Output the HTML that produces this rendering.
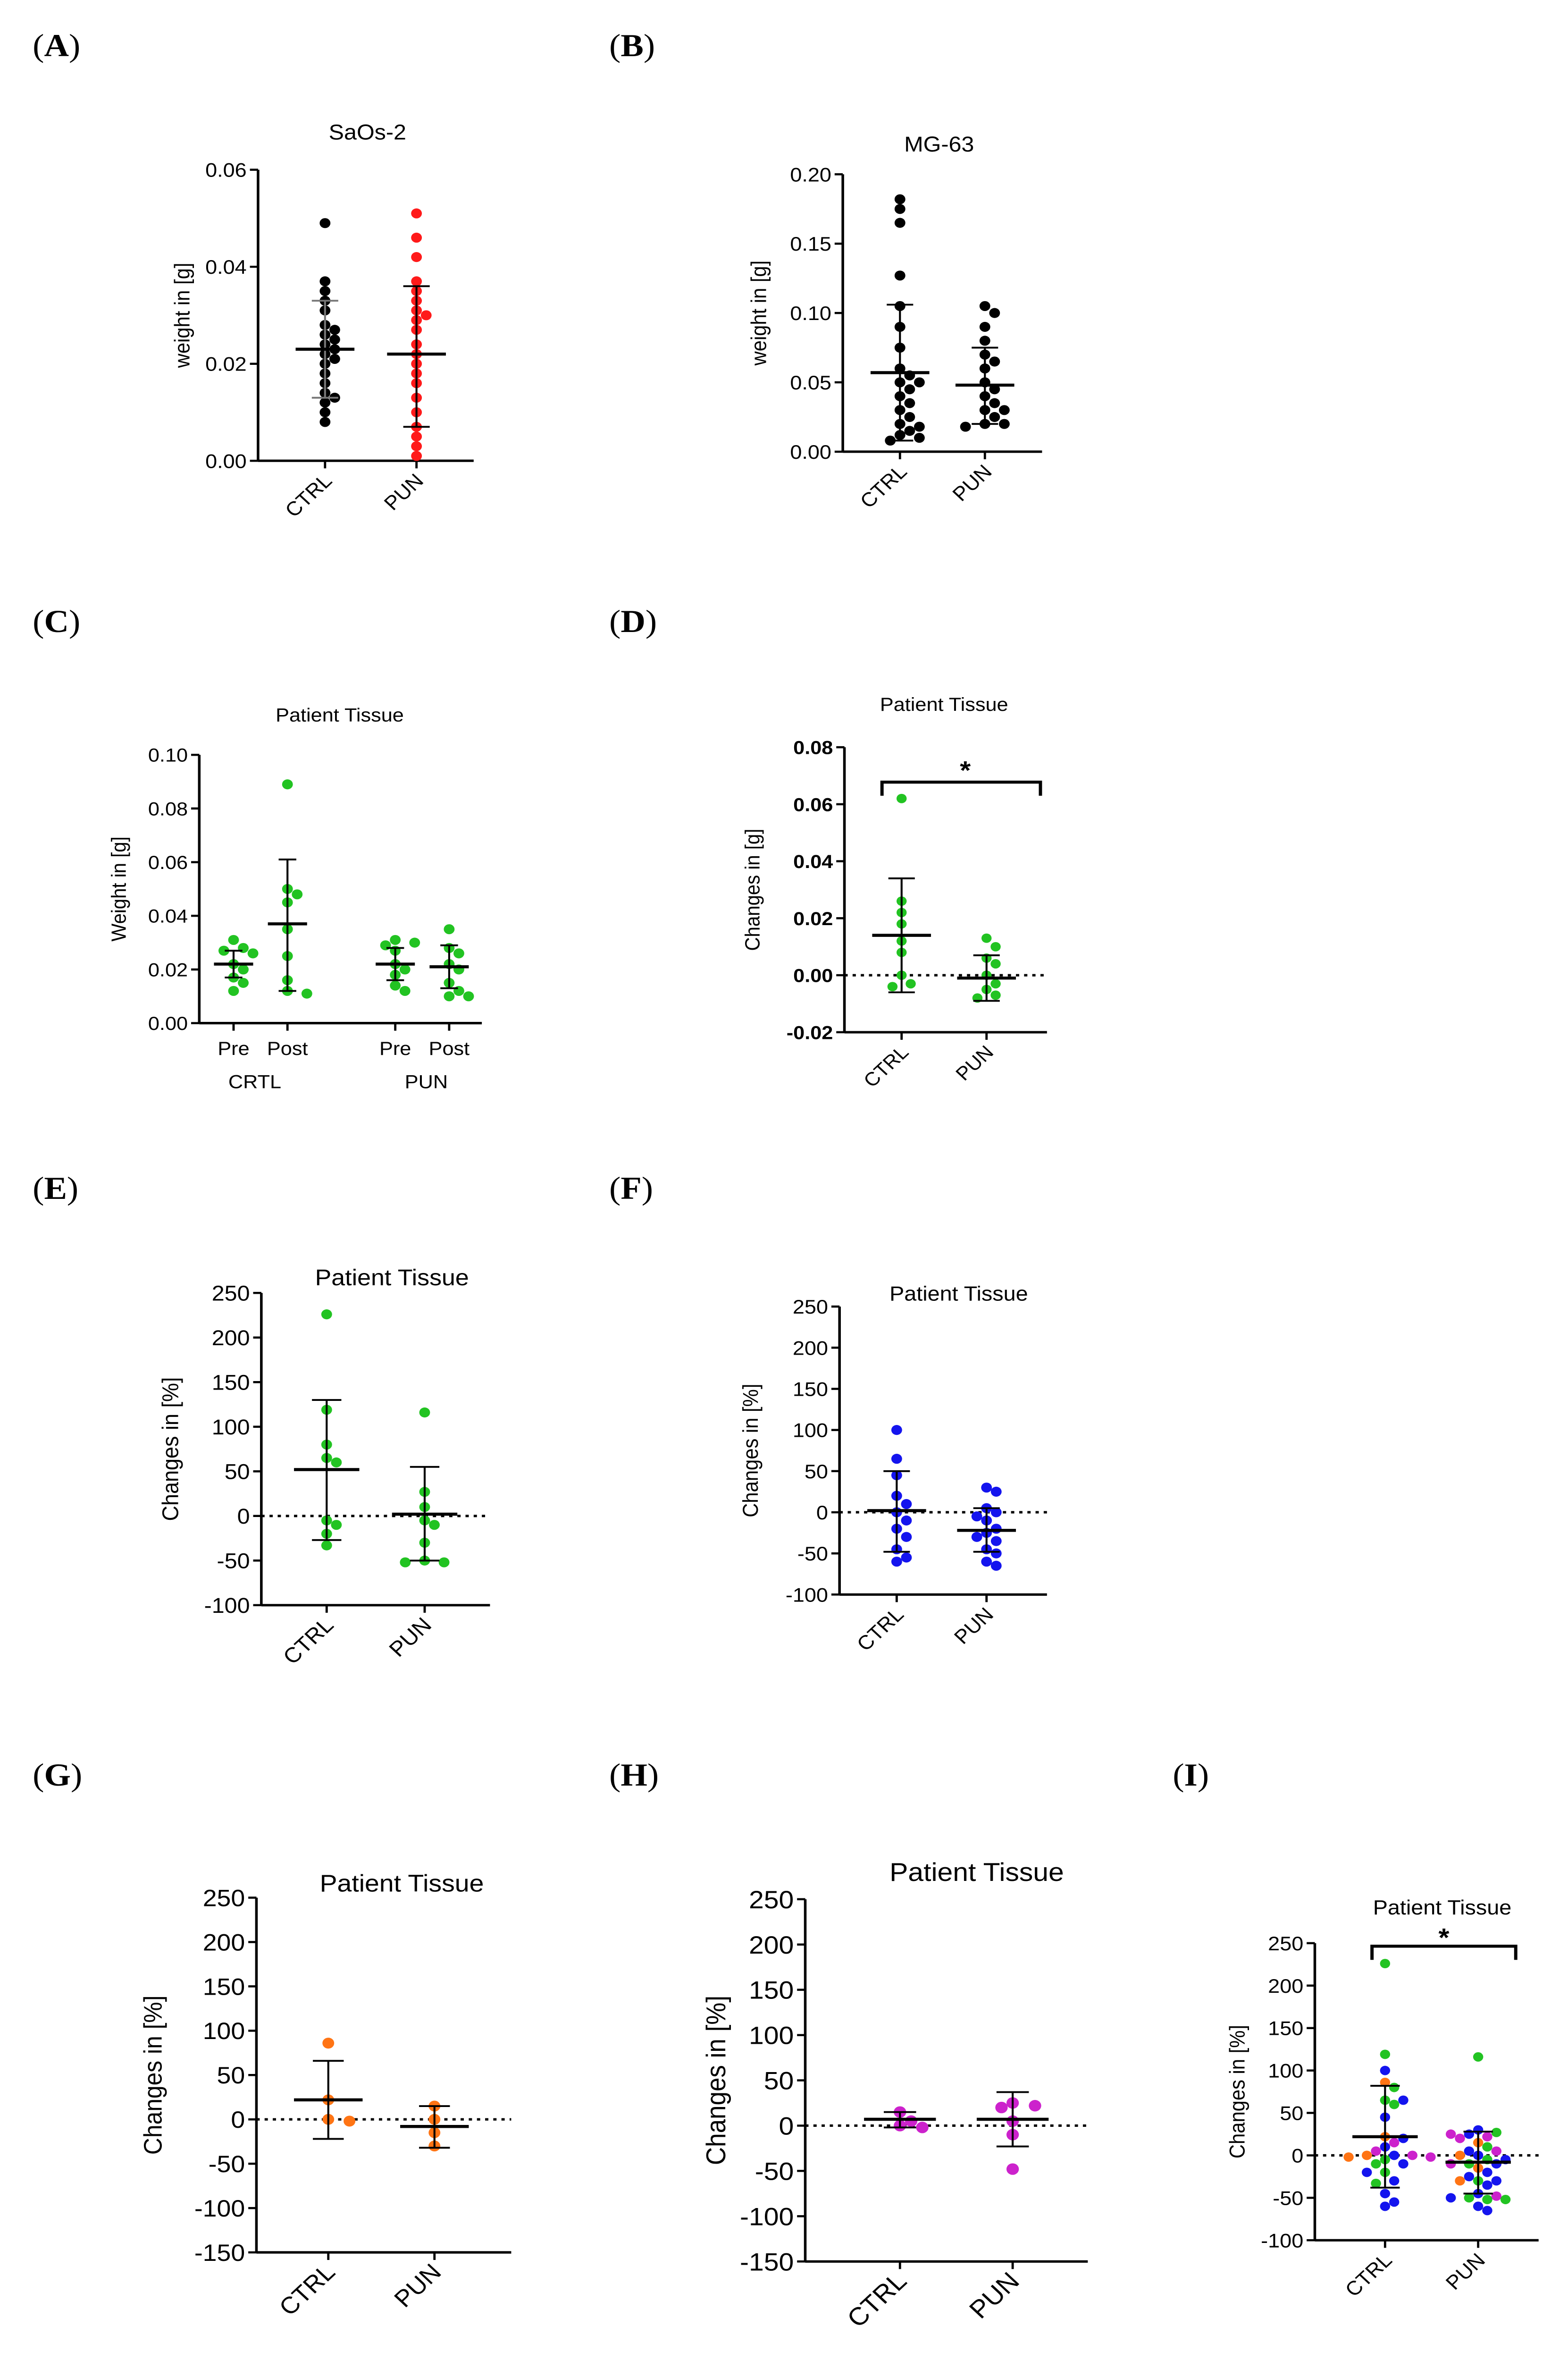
<!DOCTYPE html>
<html><head><meta charset="utf-8">
<style>html,body{margin:0;padding:0;background:#fff;width:100vw;height:100vh;overflow:hidden}
#fig{display:block;position:fixed;left:0;top:0;width:100vw;height:100vh}</style>
</head><body>
<svg id="fig" viewBox="0 0 960 1557" preserveAspectRatio="none" xmlns="http://www.w3.org/2000/svg" font-family="'Liberation Sans', sans-serif"></svg>
<script>
// ---- data ----
const aCtrl=[0.049,0.037,0.035,0.033,0.031,0.028,0.027,0.026,0.025,0.024,0.023,0.022,0.021,0.020,0.018,0.016,0.014,0.013,0.012,0.010,0.008];
const aPun=[0.051,0.046,0.042,0.037,0.035,0.033,0.031,0.030,0.029,0.027,0.024,0.022,0.020,0.018,0.016,0.013,0.010,0.007,0.005,0.003,0.001];
const aStats=[[0.023,0.013,0.033],[0.022,0.007,0.036]];
const bCtrl=[0.182,0.175,0.165,0.127,0.105,0.09,0.075,0.06,0.055,0.05,0.045,0.04,0.035,0.03,0.025,0.02,0.015,0.01,0.008,0.012,0.018,0.05];
const bPun=[0.105,0.1,0.09,0.08,0.07,0.065,0.06,0.05,0.045,0.04,0.035,0.03,0.025,0.02,0.018,0.02,0.03];
const bStats=[[0.057,0.008,0.106],[0.048,0.02,0.075]];
const cCtrlPre=[0.031,0.028,0.027,0.026,0.022,0.020,0.017,0.015,0.012];
const cCtrlPost=[0.089,0.05,0.048,0.045,0.035,0.025,0.016,0.012,0.011];
const cPunPre=[0.031,0.030,0.029,0.027,0.022,0.020,0.018,0.014,0.012];
const cPunPost=[0.035,0.028,0.026,0.022,0.020,0.015,0.012,0.010,0.010];
const cStats=[[0.022,0.017,0.027],[0.037,0.012,0.061],[0.022,0.016,0.028],[0.021,0.013,0.029]];
const dCtrl=[0.062,0.026,0.022,0.018,0.012,0.008,0.000,-0.004,-0.003];
const dPun=[0.013,0.010,0.006,0.004,0.000,-0.003,-0.005,-0.007,-0.008];
const dStats=[[0.014,-0.006,0.034],[-0.001,-0.009,0.007]];
const eCtrl=[226,119,80,65,60,-5,-10,-20,-33];
const ePun=[116,27,10,-5,-10,-30,-50,-52,-52];
const eStats=[[52,-27,130],[2,-50,55]];
const fCtrl=[100,65,45,20,10,0,-10,-20,-30,-45,-55,-60];
const fPun=[30,25,5,0,-5,-10,-20,-25,-30,-35,-45,-50,-60,-65];
const fStats=[[2,-48,50],[-22,-48,5]];
const gCtrl=[86,22,0,-2];
const gPun=[15,0,-15,-30];
const gStats=[[22,-22,66],[-8,-32,15]];
const hCtrl=[15,5,0,-2];
const hPun=[25,22,20,5,-10,-48];
const hStats=[[7,-2,15],[7,-23,37]];
const iStats=[[22,-38,82],[-8,-45,28]];
const GREEN='#22c322',BLUE='#1414ee',ORANGE='#ff7414',MAG='#cc22cc',RED='#ff1a1a',BLACK='#000';
const col=(a,c)=>a.map(()=>c);
const iCtrl=[...eCtrl,...fCtrl,...gCtrl,...hCtrl];
const iCtrlCol=[...col(eCtrl,GREEN),...col(fCtrl,BLUE),...col(gCtrl,ORANGE),...col(hCtrl,MAG)];
const iPun=[...ePun,...fPun,...gPun,...hPun];
const iPunCol=[...col(ePun,GREEN),...col(fPun,BLUE),...col(gPun,ORANGE),...col(hPun,MAG)];
const tickA=[0,0.02,0.04,0.06], tickB=[0,0.05,0.1,0.15,0.2], tickC=[0,0.02,0.04,0.06,0.08,0.1],
 tickD=[-0.02,0,0.02,0.04,0.06,0.08], tickE=[-100,-50,0,50,100,150,200,250], tickG=[-150,-100,-50,0,50,100,150,200,250];

const svg=document.getElementById('fig');
const NS='http://www.w3.org/2000/svg';
function el(tag,attrs,parent,txt){const e=document.createElementNS(NS,tag);for(const k in attrs)e.setAttribute(k,attrs[k]);if(txt!==undefined)e.textContent=txt;(parent||svg).appendChild(e);return e;}

const panels=[
{id:'a',lab:'A',lx:20,ly:37,ax:158,ax1:290,yT:112,yB:304,vMin:0,vMax:0.06,ticks:tickA,dec:2,title:'SaOs-2',tx:225,ty:92,ts:14,yl:'weight in [g]',ylx:116,fs:13,r:3.3,
 groups:[{x:199,vals:aCtrl,cols:col(aCtrl,BLACK),st:aStats[0],lab:'CTRL',ebc:'#777'},{x:255,vals:aPun,cols:col(aPun,RED),st:aStats[1],lab:'PUN'}],hw:18},
{id:'b',lab:'B',lx:373,ly:37,ax:516,ax1:638,yT:115,yB:298,vMin:0,vMax:0.2,ticks:tickB,dec:2,title:'MG-63',tx:575,ty:100,ts:14,yl:'weight in [g]',ylx:469,fs:13,r:3.3,
 groups:[{x:551,vals:bCtrl,cols:col(bCtrl,BLACK),st:bStats[0],lab:'CTRL'},{x:603,vals:bPun,cols:col(bPun,BLACK),st:bStats[1],lab:'PUN'}],hw:18},
{id:'c',lab:'C',lx:20,ly:417,ax:122,ax1:295,yT:498,yB:675,vMin:0,vMax:0.1,ticks:tickC,dec:2,title:'Patient Tissue',tx:208,ty:476,ts:12.5,yl:'Weight in [g]',ylx:77,fs:12.5,r:3.3,flat:true,
 groups:[{x:143,vals:cCtrlPre,cols:col(cCtrlPre,GREEN),st:cStats[0],lab:'Pre'},{x:176,vals:cCtrlPost,cols:col(cCtrlPost,GREEN),st:cStats[1],lab:'Post'},
  {x:242,vals:cPunPre,cols:col(cPunPre,GREEN),st:cStats[2],lab:'Pre'},{x:275,vals:cPunPost,cols:col(cPunPost,GREEN),st:cStats[3],lab:'Post'}],hw:12,
 groupLabels:[[156,'CRTL'],[261,'PUN']]},
{id:'d',lab:'D',lx:373,ly:417,ax:517,ax1:641,yT:493,yB:681,vMin:-0.02,vMax:0.08,ticks:tickD,dec:2,bold:true,title:'Patient Tissue',tx:578,ty:469,ts:12.5,yl:'Changes in [g]',ylx:465,fs:12.5,r:3.1,zero:true,
 groups:[{x:552,vals:dCtrl,cols:col(dCtrl,GREEN),st:dStats[0],lab:'CTRL'},{x:604,vals:dPun,cols:col(dPun,GREEN),st:dStats[1],lab:'PUN'}],hw:18,bracket:[540,637,516,591,514]},
{id:'e',lab:'E',lx:20,ly:791,ax:160,ax1:300,yT:853,yB:1059,vMin:-100,vMax:250,ticks:tickE,dec:0,title:'Patient Tissue',tx:240,ty:848,ts:15,yl:'Changes in [%]',ylx:109,fs:14,r:3.3,zero:true,
 groups:[{x:200,vals:eCtrl,cols:col(eCtrl,GREEN),st:eStats[0],lab:'CTRL'},{x:260,vals:ePun,cols:col(ePun,GREEN),st:eStats[1],lab:'PUN'}],hw:20},
{id:'f',lab:'F',lx:373,ly:791,ax:514,ax1:641,yT:862,yB:1052,vMin:-100,vMax:250,ticks:tickE,dec:0,title:'Patient Tissue',tx:587,ty:858,ts:13.5,yl:'Changes in [%]',ylx:464,fs:13,r:3.3,zero:true,
 groups:[{x:549,vals:fCtrl,cols:col(fCtrl,BLUE),st:fStats[0],lab:'CTRL'},{x:604,vals:fPun,cols:col(fPun,BLUE),st:fStats[1],lab:'PUN'}],hw:18},
{id:'g',lab:'G',lx:20,ly:1178,ax:157,ax1:313,yT:1252,yB:1486,vMin:-150,vMax:250,ticks:tickG,dec:0,title:'Patient Tissue',tx:246,ty:1248,ts:16,yl:'Changes in [%]',ylx:99,fs:15.5,r:3.6,zero:true,
 groups:[{x:201,vals:gCtrl,cols:col(gCtrl,ORANGE),st:gStats[0],lab:'CTRL'},{x:266,vals:gPun,cols:col(gPun,ORANGE),st:gStats[1],lab:'PUN'}],hw:21},
{id:'h',lab:'H',lx:373,ly:1178,ax:493,ax1:666,yT:1253,yB:1492,vMin:-150,vMax:250,ticks:tickG,dec:0,title:'Patient Tissue',tx:598,ty:1241,ts:17,yl:'Changes in [%]',ylx:444,fs:16.5,r:3.8,zero:true,
 groups:[{x:551,vals:hCtrl,cols:col(hCtrl,MAG),st:hStats[0],lab:'CTRL'},{x:620,vals:hPun,cols:col(hPun,MAG),st:hStats[1],lab:'PUN'}],hw:22},
{id:'i',lab:'I',lx:718,ly:1178,ax:805,ax1:942,yT:1282,yB:1478,vMin:-100,vMax:250,ticks:tickE,dec:0,title:'Patient Tissue',tx:883,ty:1263,ts:13.5,yl:'Changes in [%]',ylx:762,fs:13,r:3.1,zero:true,
 groups:[{x:848,vals:iCtrl,cols:iCtrlCol,st:iStats[0],lab:'CTRL'},{x:905,vals:iPun,cols:iPunCol,st:iStats[1],lab:'PUN'}],hw:20,bracket:[840,928,1284,884,1284]}
];

function fmt(v,d){return d?v.toFixed(d):String(v);}

panels.forEach(p=>{
  const g=el('g',{},svg);
  
  
  const y=v=>p.yB-(v-p.vMin)/(p.vMax-p.vMin)*(p.yB-p.yT);
  const pl=el('text',{x:p.lx,y:p.ly,'font-family':"'Liberation Serif', serif",'font-size':21},g);
  
  
  el('tspan',{},pl,'(');
  el('tspan',{'font-weight':'bold'},pl,p.lab);
  el('tspan',{},pl,')');
  const tt=el('text',{x:p.tx,y:p.ty,'text-anchor':'middle','font-size':p.ts},g,p.title);
  
  
  const ya=el('line',{x1:p.ax,x2:p.ax,y1:p.yT,y2:p.yB,stroke:'#000','stroke-width':1.6},g);
  
  
  p.ticks.forEach(t=>{
    el('line',{x1:p.ax-5,x2:p.ax,y1:y(t),y2:y(t),stroke:'#000','stroke-width':1.4},g);
    const tl=el('text',{x:p.ax-7,y:y(t)+p.fs*0.36,'text-anchor':'end','font-size':p.fs,'font-weight':p.bold?'bold':'normal'},g,fmt(t,p.dec));
    
    
  });
  const cy=(p.yT+p.yB)/2;
  const yl=el('text',{x:p.ylx,y:cy,'text-anchor':'middle','font-size':p.fs,transform:`rotate(-90 ${p.ylx} ${cy})`},g,p.yl);
  
  
  const xa=el('line',{x1:p.ax,x2:p.ax1,y1:p.yB,y2:p.yB,stroke:'#000','stroke-width':1.6},g);
  
  
  if(p.zero){
    const z=el('line',{x1:p.ax,x2:p.ax1,y1:y(0),y2:y(0),stroke:'#000','stroke-width':1.6,'stroke-dasharray':'2 3'},g);
    
    
  }
  p.groups.forEach(gr=>{
    el('line',{x1:gr.x,x2:gr.x,y1:p.yB,y2:p.yB+5,stroke:'#000','stroke-width':1.4},g);
    let lt;
    if(p.flat){
      lt=el('text',{x:gr.x,y:p.yB+21,'text-anchor':'middle','font-size':p.fs},g,gr.lab);
    } else {
      const lx=gr.x+5, ly=p.yB+14;
      lt=el('text',{x:lx,y:ly,'text-anchor':'end','font-size':p.fs,transform:`rotate(-45 ${lx} ${ly})`},g,gr.lab);
    }
    
    
    const placed=[];const d=p.r*2;
    const order=gr.vals.map((v,i)=>i).sort((a,b)=>gr.vals[b]-gr.vals[a]);
    order.forEach(i=>{
      const py=y(gr.vals[i]);let px=gr.x;
      for(let k=0;k<40;k++){
        const off=(k%2?1:-1)*Math.ceil(k/2)*d*0.9;
        const cx=gr.x+off;
        if(placed.every(q=>Math.hypot(q[0]-cx,q[1]-py)>=d*0.95)){px=cx;break;}
      }
      placed.push([px,py]);
      const c=el('circle',{cx:px,cy:py,r:p.r,fill:gr.cols[i]},g);
      
      
    });
    const [m,lo,hi]=gr.st;
    const cw=p.hw*0.45;
    const eb=el('path',{d:`M${gr.x} ${y(lo)}V${y(hi)}M${gr.x-cw} ${y(lo)}H${gr.x+cw}M${gr.x-cw} ${y(hi)}H${gr.x+cw}`,stroke:gr.ebc||'#000','stroke-width':1.2,fill:'none'},g);
    
    
    const ml=el('line',{x1:gr.x-p.hw,x2:gr.x+p.hw,y1:y(m),y2:y(m),stroke:'#000','stroke-width':2},g);
    
    
  });
  if(p.groupLabels){p.groupLabels.forEach(([x,t])=>{
    const gl=el('text',{x:x,y:p.yB+43,'text-anchor':'middle','font-size':p.fs},g,t);
    
    
  });}
  if(p.bracket){const [x1,x2,by,sx,sy]=p.bracket;
    const br=el('path',{d:`M${x1} ${by+9}V${by}H${x2}V${by+9}`,stroke:'#000','stroke-width':2,fill:'none'},g);
    
    
    const st=el('text',{x:sx,y:sy,'text-anchor':'middle','font-size':17,'font-weight':'bold'},g,'*');
    
    
  }
});
</script>
</body></html>
